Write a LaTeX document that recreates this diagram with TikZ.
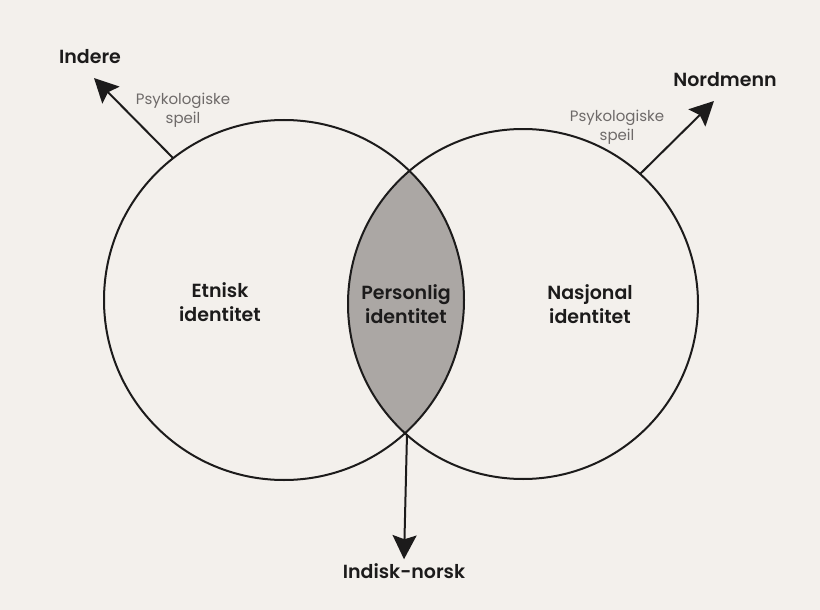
\documentclass[tikz,border=0pt]{standalone}
\usepackage{fontspec}
\setmainfont{Poppins}[BoldFont={Poppins SemiBold}]
\usetikzlibrary{arrows.meta}
\definecolor{paper}{HTML}{F3F0EC}
\definecolor{ink}{HTML}{1C1B1B}
\definecolor{lensgray}{HTML}{ABA7A4}
\definecolor{softink}{HTML}{6E6A69}
\begin{document}
\begin{tikzpicture}[x=1pt,y=-1pt,
  ring/.style={circle,draw=ink,line width=2pt,inner sep=0pt,outer sep=0pt},
  biglabel/.style={font=\fontsize{19}{24}\selectfont\bfseries,text=ink,align=center,inner sep=0pt},
  toplabel/.style={font=\fontsize{19}{24}\selectfont\bfseries,text=ink,inner sep=0pt},
  mirror/.style={font=\fontsize{15}{19.5}\selectfont,text=softink,align=center,inner sep=0pt},
  pointer/.style={draw=ink,line width=2pt,-{Stealth[length=24pt,width=24pt,inset=4pt]}}]
  % page
  \fill[paper] (0,0) rectangle (820,610);
  \useasboundingbox (0,0) rectangle (820,610);

  % overlap of the two identities
  \begin{scope}
    \clip (284,300) circle[radius=180pt];
    \fill[lensgray] (523,304) circle[radius=175pt];
  \end{scope}

  % the two identity circles
  \node[ring,minimum size=360pt] (ethnic) at (284,300) {};
  \node[ring,minimum size=350pt] (national) at (523,304) {};
  \coordinate (meet) at (407,434);

  % labels inside
  \node[biglabel] (etnisk) at (220,302) {Etnisk\\identitet};
  \node[biglabel] (personlig) at (406,304) {Personlig\\identitet};
  \node[biglabel] (nasjonal) at (590,304) {Nasjonal\\identitet};

  % outer targets
  \node[toplabel] (indere) at (90,57) {Indere};
  \node[toplabel] (nordmenn) at (725,80) {Nordmenn};
  \node[toplabel,inner sep=4pt] (indisk) at (404,571) {Indisk-norsk};

  % mirror labels
  \node[mirror] (spL) at (183,110) {Psykologiske\\speil};
  \node[mirror] (spR) at (617,127) {Psykologiske\\speil};

  % arrows
  \coordinate (tipL) at (94,78);
  \coordinate (tipR) at (714,101);
  \draw[pointer] (ethnic.128.3) -- (tipL);
  \draw[pointer] (national.48.9) -- (tipR);
  \draw[pointer] (meet) -- (indisk.north);
\end{tikzpicture}
\end{document}
